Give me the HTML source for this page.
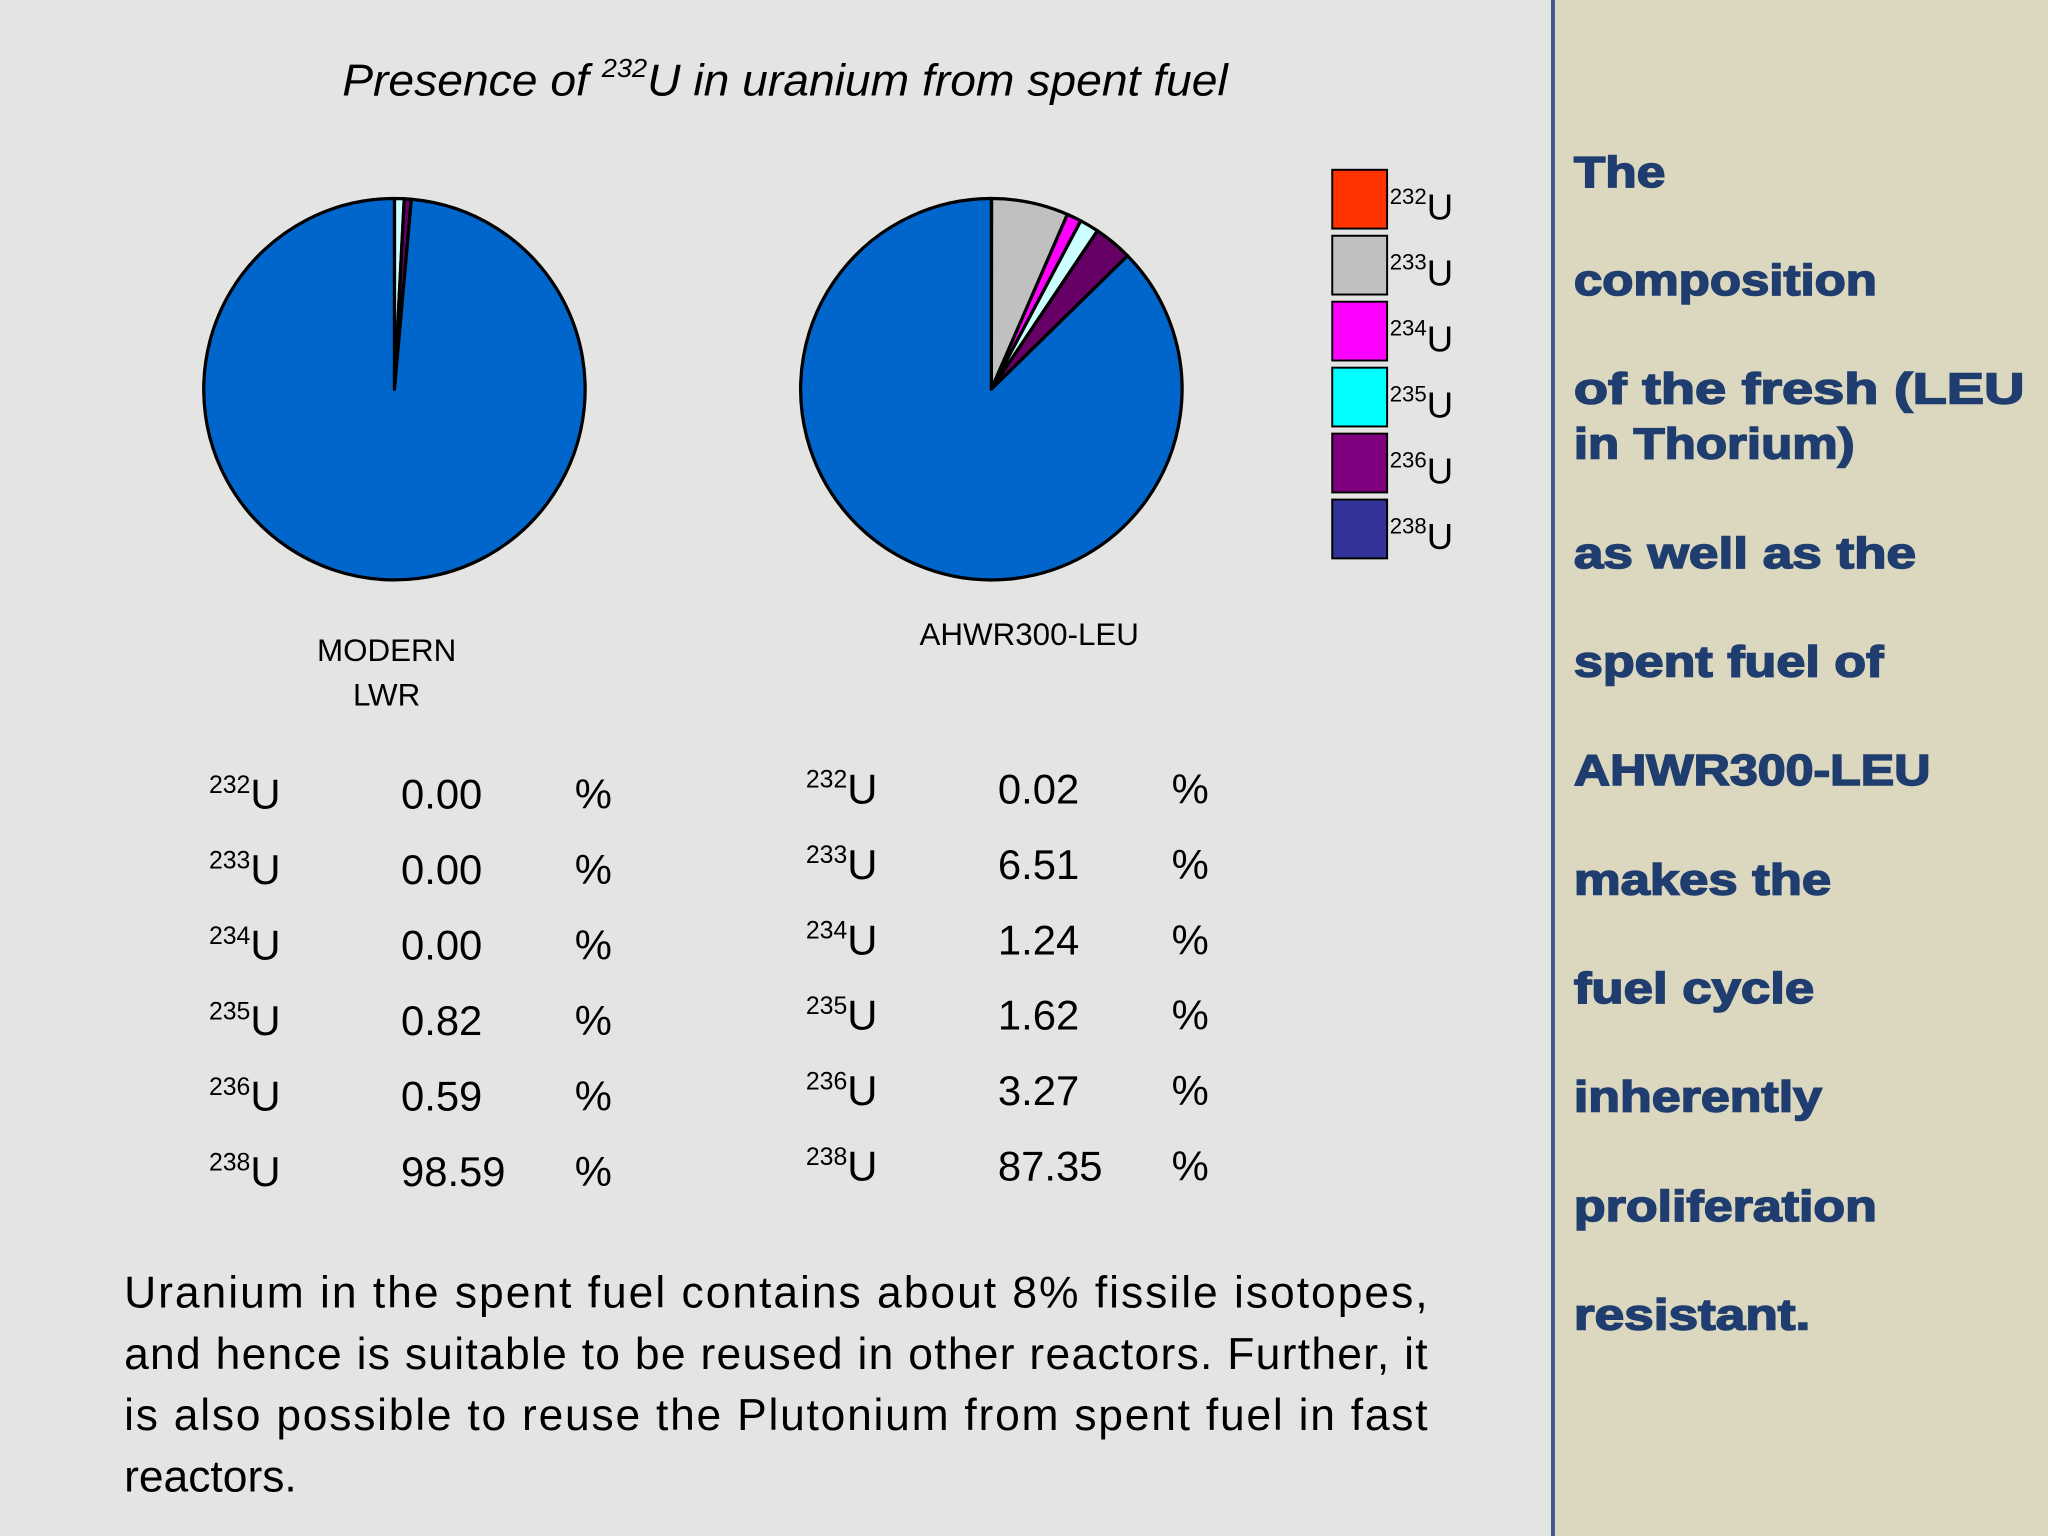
<!DOCTYPE html>
<html><head><meta charset="utf-8">
<style>
html,body{margin:0;padding:0;background:#e4e4e2;}
svg{display:block;}
text{font-family:"Liberation Sans",sans-serif;}
</style></head>
<body>
<svg id="chart" width="2048" height="1536" viewBox="0 0 1568 1176" xmlns="http://www.w3.org/2000/svg">
  <rect x="0" y="0" width="1568" height="1176" fill="#e4e4e2"/>
  <text x="262" y="73" font-size="34" font-style="italic" fill="#000" textLength="678" lengthAdjust="spacingAndGlyphs">Presence of <tspan font-size="20" dy="-14">232</tspan><tspan dy="14">U in uranium from spent fuel</tspan></text>
  <g id="pies"></g>
  <g id="legend"></g>
  <text x="296" y="506" font-size="24" text-anchor="middle">MODERN</text>
  <text x="296" y="540" font-size="24" text-anchor="middle">LWR</text>
  <text x="788" y="494" font-size="24" text-anchor="middle">AHWR300-LEU</text>
  <g id="tables"></g>
  <g font-size="34" fill="#000">
    <text x="95" y="1001" textLength="998" lengthAdjust="spacing">Uranium in the spent fuel contains about 8% fissile isotopes,</text>
    <text x="95" y="1048" textLength="998" lengthAdjust="spacing">and hence is suitable to be reused in other reactors. Further, it</text>
    <text x="95" y="1095" textLength="998" lengthAdjust="spacing">is also possible to reuse the Plutonium from spent fuel in fast</text>
    <text x="95" y="1142">reactors.</text>
  </g>
  <rect x="1189" y="-2" width="381" height="1180" fill="#dcd8c0" stroke="#3d5a8a" stroke-width="3"/>
  <g font-size="33" font-weight="bold" fill="#1f3d6e" stroke="#1f3d6e" stroke-width="1.2" lengthAdjust="spacingAndGlyphs">
    <text x="1205" y="143" textLength="70" lengthAdjust="spacingAndGlyphs">The</text>
    <text x="1205" y="226" textLength="232" lengthAdjust="spacingAndGlyphs">composition</text>
    <text x="1205" y="309" textLength="345" lengthAdjust="spacingAndGlyphs">of the fresh (LEU</text>
    <text x="1205" y="351" textLength="215" lengthAdjust="spacingAndGlyphs">in Thorium)</text>
    <text x="1205" y="435" textLength="262" lengthAdjust="spacingAndGlyphs">as well as the</text>
    <text x="1205" y="518" textLength="237" lengthAdjust="spacingAndGlyphs">spent fuel of</text>
    <text x="1205" y="601" textLength="273" lengthAdjust="spacingAndGlyphs">AHWR300-LEU</text>
    <text x="1205" y="685" textLength="197" lengthAdjust="spacingAndGlyphs">makes the</text>
    <text x="1205" y="768" textLength="184" lengthAdjust="spacingAndGlyphs">fuel cycle</text>
    <text x="1205" y="851" textLength="190" lengthAdjust="spacingAndGlyphs">inherently</text>
    <text x="1205" y="935" textLength="232" lengthAdjust="spacingAndGlyphs">proliferation</text>
    <text x="1205" y="1018" textLength="181" lengthAdjust="spacingAndGlyphs">resistant.</text>
  </g>
</svg>
<script>
const isotopes = ["232","233","234","235","236","238"];
const lwrValues = [0.00, 0.00, 0.00, 0.82, 0.59, 98.59];
const ahwrValues = [0.02, 6.51, 1.24, 1.62, 3.27, 87.35];
const lwrLabels = ["0.00","0.00","0.00","0.82","0.59","98.59"];
const ahwrLabels = ["0.02","6.51","1.24","1.62","3.27","87.35"];
const pieColors = ["#ff3300","#c0c0c0","#ff00ff","#ccffff","#660066","#0066cc"];
const legendColors = ["#ff3300","#c0c0c0","#ff00ff","#00ffff","#800080","#333399"];

const NS = "http://www.w3.org/2000/svg";
function mk(tag, attrs, parent){
  const e = document.createElementNS(NS, tag);
  for (const k in attrs) e.setAttribute(k, attrs[k]);
  parent.appendChild(e);
  return e;
}
function drawPie(cx, cy, r, vals, name){
  const g = document.getElementById('pies');
  const total = vals.reduce((a,b)=>a+b,0);
  let a0 = 0;
  vals.forEach((v,i)=>{
    if (v <= 0) return;
    const a1 = a0 + v/total*2*Math.PI;
    const x0 = cx + r*Math.sin(a0), y0 = cy - r*Math.cos(a0);
    const x1 = cx + r*Math.sin(a1), y1 = cy - r*Math.cos(a1);
    const large = (a1-a0) > Math.PI ? 1 : 0;
    const p = mk('path', {d:`M${cx},${cy} L${x0},${y0} A${r},${r} 0 ${large} 1 ${x1},${y1} Z`, fill:pieColors[i], stroke:'#000', 'stroke-width':2.5, 'stroke-linejoin':'round'}, g);
    
    
    a0 = a1;
  });
}
drawPie(302, 298, 146, lwrValues, 'lwr');
drawPie(759, 298, 146, ahwrValues, 'ahwr');

const lg = document.getElementById('legend');
isotopes.forEach((iso,i)=>{
  const y = 130 + i*50.5;
  const r = mk('rect', {x:1020, y:y, width:42, height:45, fill:legendColors[i], stroke:'#000', 'stroke-width':1.5}, lg);
  
  
  const t = mk('text', {x:1064, y:y+38, 'font-size':28}, lg);
  
  
  t.innerHTML = `<tspan font-size="17" dy="-12">${iso}</tspan><tspan dy="12">U</tspan>`;
});

function drawTable(x0, y0, labels, name){
  const g = document.getElementById('tables');
  isotopes.forEach((iso,i)=>{
    const y = y0 + i*57.8;
    const t = mk('text', {x:x0, y:y, 'font-size':32}, g);
    
    
    t.innerHTML = `<tspan font-size="19" dy="-12">${iso}</tspan><tspan dy="12">U</tspan>`;
    const v = mk('text', {x:x0+147, y:y, 'font-size':32}, g);
    
    
    v.textContent = labels[i];
    const p = mk('text', {x:x0+280, y:y, 'font-size':32}, g);
    
    
    p.textContent = '%';
  });
}
drawTable(160, 619, lwrLabels, 'lwr');
drawTable(617, 615, ahwrLabels, 'ahwr');
</script>
</body></html>
